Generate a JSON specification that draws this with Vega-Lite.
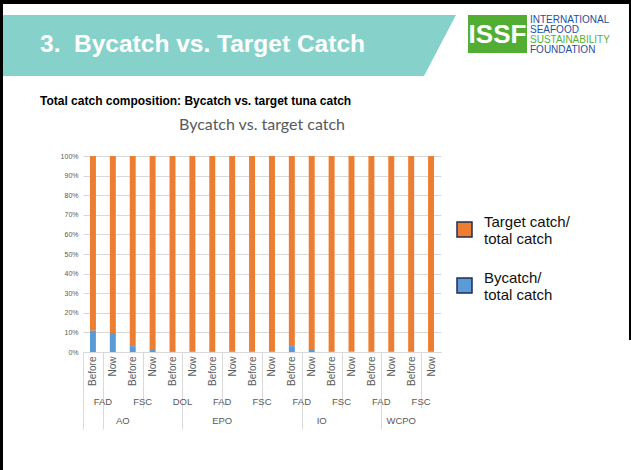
{
  "$schema": "https://vega.github.io/schema/vega-lite/v6.json",
  "padding": 0,
  "background": "white",
  "config": {
    "view": {"stroke": null},
    "font": "Liberation Sans"
  },
  "spacing": 0,
  "hconcat": [
    {
      "width": 3, "height": 470,
      "view": {"fill": "#000000"},
      "data": {"values": []},
      "mark": "point"
    },
    {
      "spacing": 0,
      "vconcat": [
        {
          "width": 626, "height": 4,
          "view": {"fill": "#000000"},
          "data": {"values": []},
          "mark": "point"
        },
        {
          "width": 1, "height": 10,
          "data": {"values": []},
          "mark": "point"
        },
        {
          "spacing": 0,
          "hconcat": [
            {
              "width": 453, "height": 61,
              "data": {"values": [{"part": "banner", "heading": "3.\u00a0 Bycatch vs. Target Catch"}]},
              "layer": [
                {
                  "mark": {
                    "type": "point",
                    "shape": "M -1 -0.1347 L 1 -0.1347 L 0.8587 0.1347 L -1 0.1347 Z",
                    "size": 205209,
                    "filled": true,
                    "fill": "#86d2cb",
                    "opacity": 1,
                    "strokeWidth": 0
                  }
                },
                {
                  "mark": {
                    "type": "text",
                    "font": "Liberation Sans",
                    "fontSize": 24.5,
                    "fontWeight": "bold",
                    "color": "#ffffff",
                    "align": "left",
                    "baseline": "alphabetic"
                  },
                  "encoding": {
                    "x": {"value": 37},
                    "y": {"value": 37},
                    "text": {"field": "heading"}
                  }
                }
              ]
            },
            {
              "width": 12, "height": 1,
              "data": {"values": []},
              "mark": "point"
            },
            {
              "width": 59, "height": 38,
              "view": {"fill": "#52ae32"},
              "data": {"values": [{"logo": "ISSF"}]},
              "mark": {
                "type": "text",
                "font": "Liberation Sans",
                "fontSize": 26,
                "fontWeight": "bold",
                "color": "#ffffff",
                "align": "center",
                "baseline": "middle",
                "dy": 1
              },
              "encoding": {"text": {"field": "logo"}}
            },
            {
              "width": 3, "height": 1,
              "data": {"values": []},
              "mark": "point"
            },
            {
              "width": 90, "height": 40,
              "data": {"values": [
                {"word": "INTERNATIONAL"},
                {"word": "SEAFOOD"},
                {"word": "SUSTAINABILITY"},
                {"word": "FOUNDATION"}
              ]},
              "mark": {
                "type": "text",
                "font": "Liberation Sans",
                "fontSize": 10,
                "align": "left",
                "baseline": "middle"
              },
              "encoding": {
                "x": {"value": 0},
                "y": {"field": "word", "type": "nominal", "sort": null, "axis": null, "scale": {"paddingInner": 0, "paddingOuter": 0}},
                "text": {"field": "word"},
                "color": {
                  "condition": {"test": "datum.word == 'SUSTAINABILITY'", "value": "#55b035"},
                  "value": "#1f4e9c"
                }
              }
            }
          ]
        },
        {
          "width": 1, "height": 40,
          "data": {"values": [{"sub": "Total catch composition: Bycatch vs. target tuna catch"}]},
          "mark": {
            "type": "text",
            "font": "Liberation Sans",
            "fontSize": 12,
            "fontWeight": "bold",
            "color": "#000000",
            "align": "left",
            "baseline": "alphabetic"
          },
          "encoding": {
            "x": {"value": 37},
            "y": {"value": 28},
            "text": {"field": "sub"}
          }
        },
        {
          "spacing": 0,
          "hconcat": [
            {
              "width": 57, "height": 1,
              "data": {"values": []},
              "mark": "point"
            },
            {
              "width": 358, "height": 196,
              "title": {
                "text": "Bycatch vs. target catch",
                "anchor": "middle",
                "frame": "group",
                "orient": "top",
                "offset": 19,
                "font": "Lato",
                "fontSize": 16,
                "fontWeight": "normal",
                "color": "#595959"
              },
              "data": {"values": [
                {"region": "AO", "gear": "FAD", "period": "Before", "type": "Bycatch", "share": 0.11},
                {"region": "AO", "gear": "FAD", "period": "Before", "type": "Target", "share": 0.89},
                {"region": "AO", "gear": "FAD", "period": "Now", "type": "Bycatch", "share": 0.097},
                {"region": "AO", "gear": "FAD", "period": "Now", "type": "Target", "share": 0.903},
                {"region": "AO", "gear": "FSC", "period": "Before", "type": "Bycatch", "share": 0.03},
                {"region": "AO", "gear": "FSC", "period": "Before", "type": "Target", "share": 0.97},
                {"region": "AO", "gear": "FSC", "period": "Now", "type": "Bycatch", "share": 0.015},
                {"region": "AO", "gear": "FSC", "period": "Now", "type": "Target", "share": 0.985},
                {"region": "EPO", "gear": "DOL", "period": "Before", "type": "Bycatch", "share": 0.004},
                {"region": "EPO", "gear": "DOL", "period": "Before", "type": "Target", "share": 0.996},
                {"region": "EPO", "gear": "DOL", "period": "Now", "type": "Bycatch", "share": 0.003},
                {"region": "EPO", "gear": "DOL", "period": "Now", "type": "Target", "share": 0.997},
                {"region": "EPO", "gear": "FAD", "period": "Before", "type": "Bycatch", "share": 0.004},
                {"region": "EPO", "gear": "FAD", "period": "Before", "type": "Target", "share": 0.996},
                {"region": "EPO", "gear": "FAD", "period": "Now", "type": "Bycatch", "share": 0.003},
                {"region": "EPO", "gear": "FAD", "period": "Now", "type": "Target", "share": 0.997},
                {"region": "EPO", "gear": "FSC", "period": "Before", "type": "Bycatch", "share": 0.003},
                {"region": "EPO", "gear": "FSC", "period": "Before", "type": "Target", "share": 0.997},
                {"region": "EPO", "gear": "FSC", "period": "Now", "type": "Bycatch", "share": 0.003},
                {"region": "EPO", "gear": "FSC", "period": "Now", "type": "Target", "share": 0.997},
                {"region": "IO", "gear": "FAD", "period": "Before", "type": "Bycatch", "share": 0.03},
                {"region": "IO", "gear": "FAD", "period": "Before", "type": "Target", "share": 0.97},
                {"region": "IO", "gear": "FAD", "period": "Now", "type": "Bycatch", "share": 0.015},
                {"region": "IO", "gear": "FAD", "period": "Now", "type": "Target", "share": 0.985},
                {"region": "IO", "gear": "FSC", "period": "Before", "type": "Bycatch", "share": 0.003},
                {"region": "IO", "gear": "FSC", "period": "Before", "type": "Target", "share": 0.997},
                {"region": "IO", "gear": "FSC", "period": "Now", "type": "Bycatch", "share": 0.002},
                {"region": "IO", "gear": "FSC", "period": "Now", "type": "Target", "share": 0.998},
                {"region": "WCPO", "gear": "FAD", "period": "Before", "type": "Bycatch", "share": 0.003},
                {"region": "WCPO", "gear": "FAD", "period": "Before", "type": "Target", "share": 0.997},
                {"region": "WCPO", "gear": "FAD", "period": "Now", "type": "Bycatch", "share": 0.003},
                {"region": "WCPO", "gear": "FAD", "period": "Now", "type": "Target", "share": 0.997},
                {"region": "WCPO", "gear": "FSC", "period": "Before", "type": "Bycatch", "share": 0.003},
                {"region": "WCPO", "gear": "FSC", "period": "Before", "type": "Target", "share": 0.997},
                {"region": "WCPO", "gear": "FSC", "period": "Now", "type": "Bycatch", "share": 0.003},
                {"region": "WCPO", "gear": "FSC", "period": "Now", "type": "Target", "share": 0.997}
              ]},
              "transform": [
                {"calculate": "datum.region + ' ' + datum.gear + ' ' + datum.period", "as": "bar"}
              ],
              "encoding": {
                "x": {
                  "field": "bar", "type": "nominal", "sort": null,
                  "scale": {"paddingInner": 0, "paddingOuter": 0},
                  "axis": {
                    "title": null,
                    "labelExpr": "split(datum.value, ' ')[2]",
                    "labelAngle": -90,
                    "labelAlign": "right",
                    "labelBaseline": "middle",
                    "labelFont": "Liberation Sans",
                    "labelFontSize": 10,
                    "labelColor": "#595959",
                    "labelPadding": {
                      "condition": [
                        {"test": "!isValid(datum.value) || test(/^(AO FAD|EPO DOL|IO FAD|WCPO FAD) Before$/, datum.value)", "value": -73},
                        {"test": "indexof(datum.value, 'Before') >= 0", "value": -52}
                      ],
                      "value": 4
                    },
                    "domainColor": "#d9d9d9",
                    "tickBand": "extent",
                    "tickColor": "#d9d9d9",
                    "tickSize": {
                      "condition": [
                        {"test": "!isValid(datum.value) || test(/^(AO FAD|EPO DOL|IO FAD|WCPO FAD) Before$/, datum.value)", "value": 77},
                        {"test": "indexof(datum.value, 'Before') >= 0", "value": 56}
                      ],
                      "value": 0
                    }
                  }
                }
              },
              "layer": [
                {
                  "mark": {"type": "bar", "width": {"band": 0.3}},
                  "encoding": {
                    "y": {
                      "field": "share", "type": "quantitative", "stack": "normalize",
                      "scale": {"domain": [0, 1]},
                      "axis": {
                        "title": null,
                        "format": ".0%",
                        "values": [0, 0.1, 0.2, 0.3, 0.4, 0.5, 0.6, 0.7, 0.8, 0.9, 1],
                        "domain": false,
                        "ticks": false,
                        "labelFont": "Liberation Sans",
                        "labelFontSize": 7,
                        "labelColor": "#595959",
                        "labelPadding": 5,
                        "gridColor": "#d9d9d9"
                      }
                    },
                    "order": {"field": "type", "type": "nominal", "sort": "ascending"},
                    "color": {
                      "field": "type", "type": "nominal",
                      "scale": {"domain": ["Target", "Bycatch"], "range": ["#ed7d31", "#5b9bd5"]},
                      "legend": {
                        "title": null,
                        "orient": "none",
                        "legendX": 456,
                        "legendY": 221,
                        "padding": 0,
                        "symbolType": "square",
                        "symbolSize": 225,
                        "labelFont": "Liberation Sans",
                        "labelFontSize": 15,
                        "labelColor": "#111111",
                        "labelOffset": 11,
                        "labelLimit": 200,
                        "rowPadding": 23,
                        "labelExpr": "datum.label == 'Target' ? ['Target catch/', 'total catch'] : ['Bycatch/', 'total catch']",
                        "encode": {
                          "symbols": {"update": {"stroke": {"value": "#1f2d5a"}, "strokeWidth": {"value": 1.5}, "opacity": {"value": 1}}},
                          "labels": {"update": {"dy": {"value": -8}}}
                        }
                      }
                    }
                  }
                },
                {
                  "transform": [
                    {"filter": "datum.type == 'Target' && datum.period == 'Before'"}
                  ],
                  "mark": {"type": "text", "dx": 9.94, "dy": 50, "font": "Liberation Sans", "fontSize": 9.5, "color": "#595959", "baseline": "middle", "align": "center"},
                  "encoding": {
                    "y": {
                      "datum": 0, "type": "quantitative",
                      "axis": {
                        "title": null,
                        "format": ".0%",
                        "values": [0, 0.1, 0.2, 0.3, 0.4, 0.5, 0.6, 0.7, 0.8, 0.9, 1],
                        "domain": false,
                        "ticks": false,
                        "labelFont": "Liberation Sans",
                        "labelFontSize": 7,
                        "labelColor": "#595959",
                        "labelPadding": 5,
                        "gridColor": "#d9d9d9"
                      }
                    },
                    "text": {"field": "gear"}
                  }
                },
                {
                  "transform": [
                    {"filter": "datum.type == 'Target'"},
                    {"window": [{"op": "row_number", "as": "idx"}], "groupby": ["region"]},
                    {"joinaggregate": [{"op": "count", "as": "n"}], "groupby": ["region"]},
                    {"filter": "datum.idx == datum.n / 2"}
                  ],
                  "mark": {"type": "text", "dx": 9.94, "dy": 69, "font": "Liberation Sans", "fontSize": 9.5, "color": "#595959", "baseline": "middle", "align": "center"},
                  "encoding": {
                    "y": {
                      "datum": 0, "type": "quantitative",
                      "axis": {
                        "title": null,
                        "format": ".0%",
                        "values": [0, 0.1, 0.2, 0.3, 0.4, 0.5, 0.6, 0.7, 0.8, 0.9, 1],
                        "domain": false,
                        "ticks": false,
                        "labelFont": "Liberation Sans",
                        "labelFontSize": 7,
                        "labelColor": "#595959",
                        "labelPadding": 5,
                        "gridColor": "#d9d9d9"
                      }
                    },
                    "text": {"field": "region"}
                  }
                }
              ]
            }
          ]
        }
      ]
    },
    {
      "width": 2, "height": 340,
      "view": {"fill": "#000000"},
      "data": {"values": []},
      "mark": "point"
    }
  ]
}
